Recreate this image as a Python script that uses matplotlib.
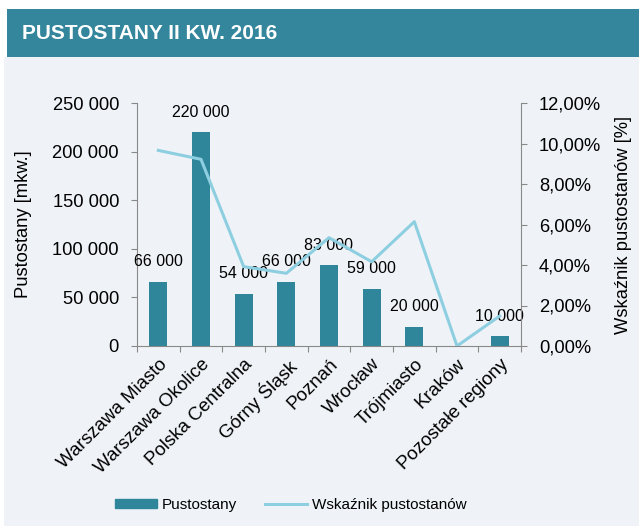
import numpy as np
import matplotlib.pyplot as plt
from matplotlib.patches import Rectangle
from matplotlib.lines import Line2D

plt.rcParams['font.family'] = ['Liberation Sans', 'DejaVu Sans']

regiony = ['Warszawa Miasto', 'Warszawa Okolice', 'Polska Centralna', 'Górny Śląsk',
           'Poznań', 'Wrocław', 'Trójmiasto', 'Kraków', 'Pozostałe regiony']
pustostany = [66000, 220000, 54000, 66000, 83000, 59000, 20000, 0, 10000]
wskaznik = [9.66, 9.22, 3.92, 3.59, 5.35, 4.16, 6.14, 0.0, 1.48]
etykiety = ['66 000', '220 000', '54 000', '66 000', '83 000', '59 000', '20 000', '', '10 000']

bar_col = '#2f869b'
line_col = '#8dcfe0'
bg_col = '#eff3f7'
spine_col = '#898989'
fs = 13.2
fs_lab = 11.5

fig = plt.figure(figsize=(6.39, 5.26), dpi=100)
fig.patch.set_facecolor('white')
fig.add_artist(Rectangle((4 / 639, 0), 1, 469 / 526, transform=fig.transFigure,
                         facecolor=bg_col, edgecolor='none', zorder=0))
fig.add_artist(Rectangle((7 / 639, 469 / 526), 1, 48 / 526, transform=fig.transFigure,
                         facecolor='#33869b', edgecolor='none', zorder=1))
fig.text(22 / 639, 492.5 / 526, 'PUSTOSTANY II KW. 2016', color='white', fontsize=15,
         fontweight='bold', va='center', ha='left')

ax = fig.add_axes([137 / 639, 180 / 526, 384 / 639, 243 / 526])
ax.set_facecolor('none')
x = np.arange(len(regiony))
ax.bar(x, pustostany, width=0.42, color=bar_col, zorder=2)
for xi, v, t in zip(x, pustostany, etykiety):
    if t:
        ax.annotate(t, (xi, v), xytext=(0, 9), textcoords='offset points',
                    ha='center', va='bottom', fontsize=fs_lab)
ax.set_xlim(-0.5, len(regiony) - 0.5)
ax.set_ylim(0, 250000)
ax.set_yticks(np.arange(0, 250001, 50000))
ax.set_yticklabels([f'{v:,}'.replace(',', ' ') for v in range(0, 250001, 50000)], fontsize=fs)
ax.set_xticks(np.arange(-0.5, len(regiony), 1))
ax.set_xticklabels([])
ax.set_xticks(x, minor=True)
ax.set_xticklabels(regiony, minor=True, rotation=45, ha='right', rotation_mode='anchor', fontsize=13.5)
ax.tick_params(axis='x', which='minor', length=0, pad=7)
ax.tick_params(axis='x', which='major', length=4, color=spine_col)
ax.tick_params(axis='y', length=4, color=spine_col, pad=9)
ax.set_ylabel('Pustostany [mkw.]', fontsize=fs, labelpad=15)
for s in ['top', 'right']:
    ax.spines[s].set_visible(False)
for s in ['left', 'bottom']:
    ax.spines[s].set_color(spine_col)

ax2 = ax.twinx()
ax2.plot(x, wskaznik, color=line_col, lw=2.2, zorder=3)
ax2.set_ylim(0, 12)
ax2.set_yticks(np.arange(0, 12.1, 2))
ax2.set_yticklabels([f'{v:.2f}%'.replace('.', ',') for v in np.arange(0, 12.1, 2)], fontsize=fs)
ax2.tick_params(axis='y', length=4, color=spine_col, pad=9)
ax2.set_ylabel('Wskaźnik pustostanów [%]', fontsize=fs, labelpad=10)
for s in ['top', 'left', 'bottom']:
    ax2.spines[s].set_visible(False)
ax2.spines['right'].set_color(spine_col)

handles = [Rectangle((0, 0), 1, 1, color=bar_col), Line2D([0], [0], color=line_col, lw=2.2)]
fig.legend(handles, ['Pustostany', 'Wskaźnik pustostanów'], loc='center left',
           bbox_to_anchor=(101 / 639, 21 / 526), ncol=2, frameon=False, fontsize=11,
           handlelength=2.75, handleheight=0.6, columnspacing=1.8, handletextpad=0.35)

fig.savefig('out.png', dpi=100)
